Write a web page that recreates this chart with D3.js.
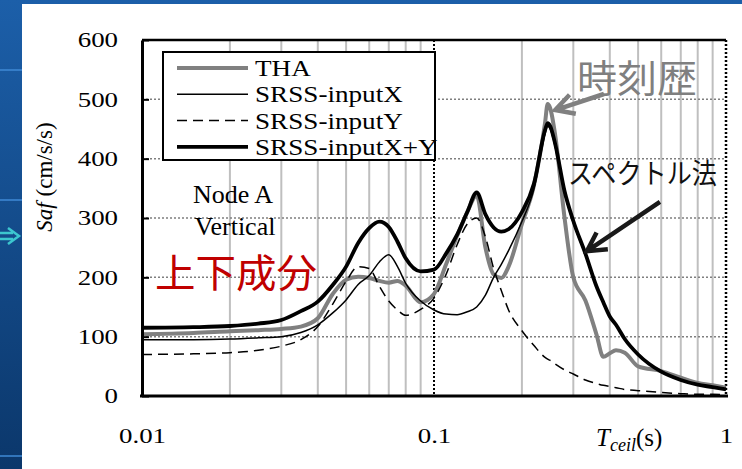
<!DOCTYPE html>
<html>
<head>
<meta charset="utf-8">
<script src="https://cdn.jsdelivr.net/npm/d3@7"></script>
<style>
  body { margin: 0; background: #fff; }
  svg { display: block; font-family: "Liberation Serif", "Times New Roman", serif; }
</style>
</head>
<body>
<svg id="chart"></svg>
<script>
// periods (s) shared by all four series
const periods = [0.01, 0.015, 0.02, 0.025, 0.03, 0.035, 0.04, 0.045, 0.05, 0.055,
  0.06, 0.065, 0.07, 0.075, 0.08, 0.09, 0.1, 0.11, 0.12, 0.13,
  0.14, 0.15, 0.16, 0.17, 0.18, 0.2, 0.22, 0.24, 0.245, 0.25, 0.26,
  0.28, 0.3, 0.33, 0.36, 0.38, 0.4, 0.42, 0.45, 0.5, 0.6,
  0.7, 0.8, 0.9, 1.0];

const thaValues = [104, 106, 109, 111, 113, 117, 131, 172, 196, 201,
  199, 194, 191, 194, 186, 158, 172, 222, 270, 310,
  338, 250, 205, 199, 218, 290, 355, 460, 492, 485, 440,
  300, 200, 161, 104, 66, 72, 77, 73, 50, 42,
  31, 22, 18, 14];

const srssXValues = [95, 95, 96, 98, 100, 107, 120, 140, 162, 188,
  203, 226, 238, 218, 190, 160, 145, 138, 137, 142,
  150, 170, 200, 222, 245, 294, 349, 442, 455, 450, 420,
  341, 292, 238, 184, 157, 133, 119, 95, 70, 41,
  27, 19, 15, 11];

const srssYValues = [70, 71, 73, 77, 84, 95, 117, 155, 193, 218,
  215, 185, 160, 145, 136, 146, 165, 205, 255, 290,
  300, 268, 215, 178, 145, 110, 85, 65, 62, 60, 54,
  44, 37, 27, 21, 18, 16, 14, 11, 9, 6,
  4, 3, 3, 2];

const srssXYValues = [115, 116, 118, 122, 128, 143, 159, 187, 218, 258,
  283, 294, 285, 260, 232, 210, 213, 240, 272, 310,
  343, 306, 284, 277, 281, 310, 358, 448, 460, 455, 425,
  345, 295, 240, 185, 158, 134, 120, 96, 70, 41,
  27, 19, 15, 11];

const seriesNames = ['THA', 'SRSS-inputX', 'SRSS-inputY', 'SRSS-inputX+Y'];
const yTickValues = [0, 100, 200, 300, 400, 500, 600];
const xTickValues = [0.01, 0.1, 1];

const W = 742, H = 469;
const margin = { top: 40, right: 16, bottom: 73, left: 142 };
const width = W - margin.left - margin.right;
const height = H - margin.top - margin.bottom;

const svg = d3.select('#chart').attr('width', W).attr('height', H);

// slide background peeking out on the left / top
const defs = svg.append('defs');
const grad = defs.append('linearGradient').attr('id', 'slideBg')
  .attr('x1', 0).attr('y1', 0).attr('x2', 0).attr('y2', 1);
grad.append('stop').attr('offset', '0%').attr('stop-color', '#1c5fa9');
grad.append('stop').attr('offset', '100%').attr('stop-color', '#0b376b');
svg.append('rect').attr('width', W).attr('height', H).attr('fill', 'url(#slideBg)');
[70, 200, 456].forEach(y => {
  svg.append('line').attr('x1', 0).attr('x2', 22).attr('y1', y).attr('y2', y)
    .attr('stroke', '#3f8ad6').attr('stroke-width', 1.5);
});
svg.append('path')
  .attr('d', 'M0,233H13M0,239H13M8,228L19,236L8,244')
  .attr('fill', 'none').attr('stroke', '#3cc6cf').attr('stroke-width', 2.5);
svg.append('rect').attr('x', 22).attr('y', 4).attr('width', W - 22).attr('height', H - 4)
  .attr('fill', '#fff');

const xScale = d3.scaleLog().domain([0.01, 1]).range([0, width]);
const yScale = d3.scaleLinear().domain([0, 600]).range([height, 0]);

const chart = svg.append('g').attr('transform', `translate(${margin.left},${margin.top})`);

// minor vertical grid (2..9 of each decade)
const minorTicks = [];
[0.01, 0.1].forEach(d => { for (let k = 2; k <= 9; k++) minorTicks.push(d * k); });
chart.append('g').selectAll('line').data(minorTicks).join('line')
  .attr('x1', d => xScale(d)).attr('x2', d => xScale(d))
  .attr('y1', 0).attr('y2', height)
  .attr('stroke', '#bfbfbf').attr('stroke-width', 2);

// horizontal dotted grid
chart.append('g').selectAll('line').data(yTickValues.filter(v => v > 0 && v < 600)).join('line')
  .attr('x1', 0).attr('x2', width)
  .attr('y1', d => yScale(d)).attr('y2', d => yScale(d))
  .attr('stroke', '#7f7f7f').attr('stroke-width', 1.5).attr('stroke-dasharray', '2,2');

// major vertical at 0.1
chart.append('line')
  .attr('x1', xScale(0.1)).attr('x2', xScale(0.1)).attr('y1', 0).attr('y2', height)
  .attr('stroke', '#000').attr('stroke-width', 2).attr('stroke-dasharray', '2,2');

// top and right frame
chart.append('line').attr('x1', 0).attr('x2', width).attr('y1', 0).attr('y2', 0)
  .attr('stroke', '#000').attr('stroke-width', 2.5);
chart.append('line').attr('x1', width).attr('x2', width).attr('y1', 0).attr('y2', height)
  .attr('stroke', '#000').attr('stroke-width', 2.5).attr('stroke-dasharray', '2,2');

// series
const rows = periods.map((t, i) => ({
  t, tha: thaValues[i], x: srssXValues[i], y: srssYValues[i], xy: srssXYValues[i]
}));
const seriesStyle = {
  'THA': { key: 'tha', stroke: '#808080', width: 4, dash: null },
  'SRSS-inputX': { key: 'x', stroke: '#000', width: 1.5, dash: null },
  'SRSS-inputY': { key: 'y', stroke: '#000', width: 1.5, dash: '10,6' },
  'SRSS-inputX+Y': { key: 'xy', stroke: '#000', width: 3.8, dash: null }
};

const marks = chart.append('g');
seriesNames.forEach(name => {
  const s = seriesStyle[name];
  const line = d3.line()
    .x(d => xScale(d.t))
    .y(d => yScale(d[s.key]))
    .curve(d3.curveMonotoneX);
  marks.append('path')
    .datum(rows)
    .attr('fill', 'none')
    .attr('stroke', s.stroke)
    .attr('stroke-width', s.width)
    .attr('stroke-dasharray', s.dash)
    .attr('stroke-linejoin', 'round')
    .attr('d', line);
});

// axes
const yAxis = d3.axisLeft(yScale).tickValues(yTickValues).tickSize(-7).tickSizeOuter(0).tickPadding(24);
const xAxis = d3.axisBottom(xScale).tickValues(xTickValues).tickSize(0).tickSizeOuter(0).tickPadding(32)
  .tickFormat(d => d);

const yAxisG = chart.append('g').call(yAxis);
const xAxisG = chart.append('g').attr('transform', `translate(0,${height})`).call(xAxis);

[yAxisG, xAxisG].forEach(g => {
  g.select('.domain').attr('stroke', '#000').attr('stroke-width', 3);
  g.selectAll('.tick line').attr('stroke', '#000').attr('stroke-width', 2);
  g.selectAll('text')
    .attr('fill', '#000')
    .style('font-family', '"Liberation Serif", serif')
    .style('font-size', '21px')
    .each(function () {
      const w = this.getComputedTextLength();
      d3.select(this).attr('textLength', w * 1.28).attr('lengthAdjust', 'spacingAndGlyphs');
    });
});
xAxisG.select('.domain').attr('d', `M-2,0H${width + 2}`);

// axis titles
const yTitle = svg.append('text')
  .attr('transform', 'translate(52,177) rotate(-90)')
  .attr('text-anchor', 'middle')
  .style('font-size', '23px');
yTitle.append('tspan').style('font-style', 'italic').text('Saf');
yTitle.append('tspan').text(' (cm/s/s)');

const xTitle = svg.append('text')
  .attr('x', 596).attr('y', 446)
  .style('font-size', '25px');
xTitle.append('tspan').style('font-style', 'italic').text('T');
xTitle.append('tspan').style('font-style', 'italic').style('font-size', '18px')
  .attr('dy', 5).text('ceil');
xTitle.append('tspan').attr('dy', -5).text('(s)');

// legend
const legend = svg.append('g');
legend.append('rect')
  .attr('x', 163).attr('y', 52).attr('width', 272).attr('height', 108)
  .attr('fill', '#fff').attr('stroke', '#000').attr('stroke-width', 2);
seriesNames.forEach((name, i) => {
  const s = seriesStyle[name];
  const cy = 68 + i * 26.3;
  legend.append('line')
    .attr('x1', 177).attr('x2', 248).attr('y1', cy).attr('y2', cy)
    .attr('stroke', s.stroke).attr('stroke-width', s.width)
    .attr('stroke-dasharray', s.dash);
  const t = legend.append('text')
    .attr('x', 255).attr('y', cy + 8)
    .style('font-size', '23px')
    .text(name);
  const w = t.node().getComputedTextLength();
  t.attr('textLength', w * 1.18).attr('lengthAdjust', 'spacingAndGlyphs');
});

// annotations
svg.append('text').attr('x', 233).attr('y', 203).attr('text-anchor', 'middle')
  .style('font-size', '26px').text('Node A');
svg.append('text').attr('x', 235).attr('y', 235).attr('text-anchor', 'middle')
  .style('font-size', '26px').text('Vertical');

const cjk = '"Noto Sans CJK JP", "Noto Sans CJK SC", sans-serif';
svg.append('text').attr('x', 155).attr('y', 287)
  .style('font-family', cjk).style('font-size', '39px').attr('fill', '#c00000')
  .attr('textLength', 162).attr('lengthAdjust', 'spacingAndGlyphs')
  .text('上下成分');
svg.append('text').attr('x', 577).attr('y', 92)
  .style('font-family', cjk).style('font-size', '38px').attr('fill', '#7f7f7f')
  .attr('textLength', 120).attr('lengthAdjust', 'spacingAndGlyphs')
  .text('時刻歴');
svg.append('text').attr('x', 568).attr('y', 184)
  .style('font-family', cjk).style('font-size', '28px').attr('fill', '#111')
  .attr('textLength', 149).attr('lengthAdjust', 'spacingAndGlyphs')
  .text('スペクトル法');

// arrows given in data units (period, Saf)
function drawArrow(from, to, color) {
  const x1 = margin.left + xScale(from[0]), y1 = margin.top + yScale(from[1]);
  const x2 = margin.left + xScale(to[0]), y2 = margin.top + yScale(to[1]);
  const a = Math.atan2(y2 - y1, x2 - x1), L = 21, s = 0.5;
  const p1 = [x2 - L * Math.cos(a - s), y2 - L * Math.sin(a - s)];
  const p2 = [x2 - L * Math.cos(a + s), y2 - L * Math.sin(a + s)];
  svg.append('path')
    .attr('d', `M${x1},${y1}L${x2},${y2}M${p1}L${x2},${y2}L${p2}`)
    .attr('fill', 'none').attr('stroke', color).attr('stroke-width', 4.5)
    .attr('stroke-linecap', 'butt').attr('stroke-linejoin', 'miter');
}
drawArrow([0.382, 509], [0.26, 482], '#808080');
drawArrow([0.594, 327], [0.334, 244], '#1a1a1a');
</script>
</body>
</html>
